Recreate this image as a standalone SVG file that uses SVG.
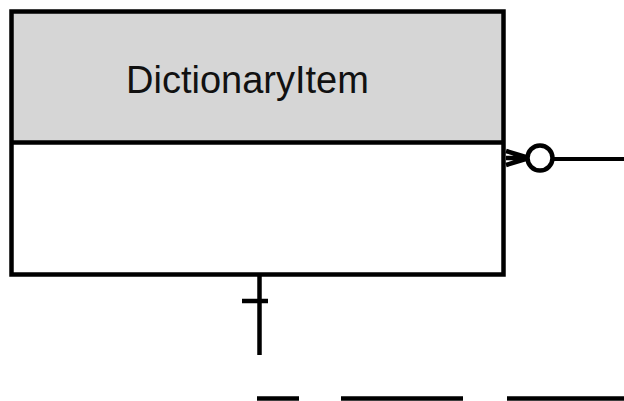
<svg xmlns="http://www.w3.org/2000/svg" width="624" height="401" viewBox="0 0 624 401">
  <style>
    .edge { fill: none; stroke: #000; stroke-width: 4.5; }
    .title { font-family: "Liberation Sans", Arial, sans-serif; font-size: 38px; fill: #111; }
  </style>
  <rect x="0" y="0" width="624" height="401" fill="#fff"/>
  <g id="DictionaryItem">
    <rect x="11.5" y="11.5" width="492" height="131" fill="#d6d6d6"/>
    <rect x="11.5" y="142.5" width="492" height="132" fill="#fff"/>
    <rect class="edge" x="11.5" y="11.5" width="492" height="263"/>
    <line class="edge" x1="11.5" y1="142.5" x2="503.5" y2="142.5"/>
    <text class="title" x="126" y="93">DictionaryItem</text>
  </g>
  <g id="connectors">
    <g id="conn-right">
      <line x1="552" y1="159" x2="624" y2="159" stroke="#000" stroke-width="4"/>
      <path d="M529,158 L506,151 M529,158 L506,158 M529,158 L506,165" stroke="#000" stroke-width="4.5" fill="none"/>
      <circle cx="540" cy="158" r="12.5" fill="#fff" stroke="#000" stroke-width="4.5"/>
    </g>
    <g id="conn-bottom">
      <line x1="259.5" y1="276" x2="259.5" y2="355" stroke="#000" stroke-width="4.5"/>
      <line x1="242" y1="301" x2="268" y2="301" stroke="#000" stroke-width="4.5"/>
      <path d="M257,398.5 H299 M341,398.5 H463 M507,398.5 H624" stroke="#000" stroke-width="4.5" fill="none"/>
    </g>
  </g>
</svg>
